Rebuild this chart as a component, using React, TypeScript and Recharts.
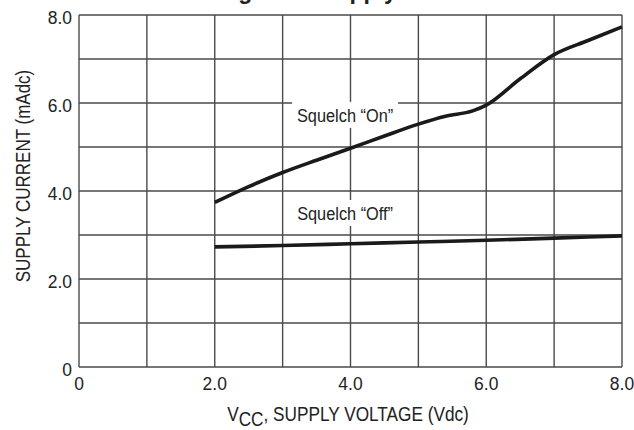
import React from 'react';
import { LineChart, Line, XAxis, YAxis, ReferenceLine, ReferenceDot } from 'recharts';

// supply voltage (Vdc) and supply current (mAdc)
const onVoltage = [2, 2.5, 3, 3.5, 4, 4.5, 5, 5.4, 5.8, 6, 6.5, 7, 7.5, 8];
const onCurrent = [3.74, 4.1, 4.42, 4.7, 4.97, 5.25, 5.52, 5.7, 5.82, 5.95, 6.55, 7.1, 7.42, 7.73];
const offVoltage = [2, 3, 4, 5, 6, 7, 8];
const offCurrent = [2.73, 2.76, 2.8, 2.84, 2.88, 2.93, 2.98];

const xTicks = [0, 2, 4, 6, 8];
const yTicks = [0, 2, 4, 6, 8];
const gridLines = [0, 1, 2, 3, 4, 5, 6, 7, 8];

const curveLabels = [
  { text: 'Squelch \u201COn\u201D', v: 3.92, i: 5.73 },
  { text: 'Squelch \u201COff\u201D', v: 3.92, i: 3.5 },
];

const onData = onVoltage.map((v, k) => ({ v, i: onCurrent[k] }));
const offData = offVoltage.map((v, k) => ({ v, i: offCurrent[k] }));

const SANS = '"Liberation Sans", Arial, sans-serif';
const INK = '#222';
const GRID = '#4a4a4a';

const fmt = (n: number) => (n === 0 ? '0' : n.toFixed(1));

// Arial squeezed sideways, standing in for the condensed face of the original
const Narrow = ({ x, y, size, squeeze, anchor = 'middle', rotate = 0, children }: any) => (
  <text
    transform={`translate(${x} ${y}) rotate(${rotate}) scale(${squeeze} 1)`}
    textAnchor={anchor}
    fontFamily={SANS}
    fontSize={size}
    fill={INK}
  >
    {children}
  </text>
);

const XTick = ({ x, y, payload }: any) => (
  <Narrow x={x} y={y + 14} size={19} squeeze={0.92}>
    {fmt(payload.value)}
  </Narrow>
);

const YTick = ({ x, y, payload }: any) => (
  <Narrow x={x} y={y + 9} size={19} squeeze={0.92} anchor="end">
    {fmt(payload.value)}
  </Narrow>
);

const CurveLabel = ({ viewBox, text }: any) => {
  if (!viewBox) return null;
  const cx = viewBox.x + (viewBox.width || 0) / 2;
  const cy = viewBox.y + (viewBox.height || 0) / 2;
  return (
    <g>
      <rect x={cx - 53} y={cy - 13} width={106} height={26} fill="#fff" />
      <Narrow x={cx} y={cy + 7} size={19} squeeze={0.86}>
        {text}
      </Narrow>
    </g>
  );
};

export default function App() {
  return (
    <div style={{ position: 'absolute', left: 0, top: 0, width: 634, height: 430, background: '#fff' }}>
      <LineChart width={634} height={430} margin={{ top: 15, right: 12, left: 0, bottom: 0 }}>
        <XAxis
          type="number"
          dataKey="v"
          domain={[0, 8]}
          ticks={xTicks}
          height={63}
          axisLine={false}
          tickLine={false}
          tickSize={0}
          tickMargin={9}
          tick={<XTick />}
        />
        <YAxis
          type="number"
          dataKey="i"
          domain={[0, 8]}
          ticks={yTicks}
          width={79}
          axisLine={false}
          tickLine={false}
          tickSize={0}
          tickMargin={7}
          tick={<YTick />}
        />
        {gridLines.map((g) => (
          <ReferenceLine key={'x' + g} x={g} stroke={GRID} strokeWidth={1.4} />
        ))}
        {gridLines.map((g) => (
          <ReferenceLine key={'y' + g} y={g} stroke={GRID} strokeWidth={1.4} />
        ))}
        {curveLabels.map((l) => (
          <ReferenceDot
            key={l.text}
            x={l.v}
            y={l.i}
            r={0}
            stroke="none"
            fill="none"
            label={<CurveLabel text={l.text} />}
          />
        ))}
        <Line
          data={onData}
          dataKey="i"
          type="monotone"
          stroke="#1a1a1a"
          strokeWidth={3.6}
          dot={false}
          isAnimationActive={false}
        />
        <Line
          data={offData}
          dataKey="i"
          type="monotone"
          stroke="#1a1a1a"
          strokeWidth={3.6}
          dot={false}
          isAnimationActive={false}
        />
      </LineChart>
      <svg width={634} height={430} style={{ position: 'absolute', left: 0, top: 0, pointerEvents: 'none' }}>
        <text x={352} y={-1} textAnchor="middle" fontFamily={SANS} fontWeight="bold" fontSize={23} fill={INK}>
          Figure 3. Supply Current
        </text>
        <Narrow x={348} y={421} size={21} squeeze={0.82}>
          V<tspan dy={5}>CC</tspan>
          <tspan dy={-5}>, SUPPLY VOLTAGE (Vdc)</tspan>
        </Narrow>
        <Narrow x={30} y={176} size={21} squeeze={0.81} rotate={-90}>
          SUPPLY CURRENT (mAdc)
        </Narrow>
      </svg>
    </div>
  );
}
